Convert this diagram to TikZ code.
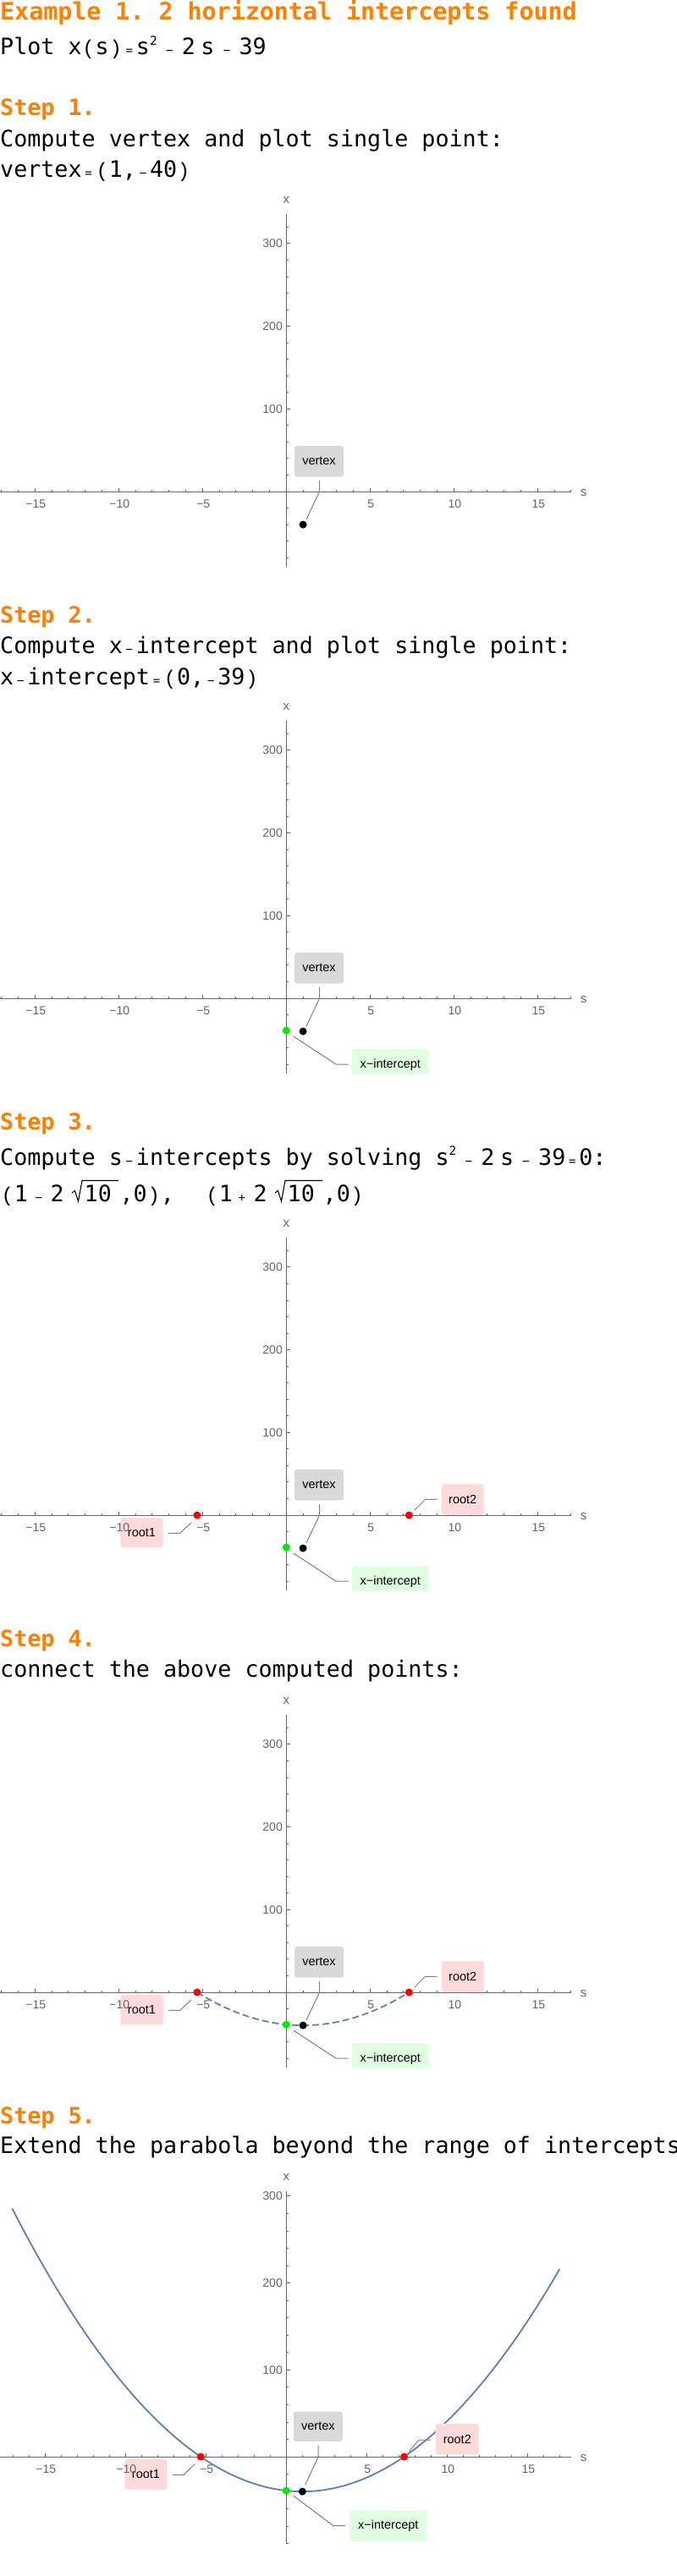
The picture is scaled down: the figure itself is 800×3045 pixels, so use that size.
\documentclass[tikz,border=0pt]{standalone}
\usepackage{fontspec}
\setmonofont{DejaVu Sans Mono}
\newfontfamily\lsans{Liberation Sans}
\newfontfamily\lmono{Liberation Mono}
\definecolor{orng}{RGB}{255,128,0}
\definecolor{axgray}{RGB}{102,102,102}
\definecolor{leadgray}{RGB}{128,128,128}
\definecolor{ptgreen}{RGB}{0,235,0}
\definecolor{curveblue}{RGB}{94,129,181}
\definecolor{vtxfill}{RGB}{217,217,217}
\definecolor{xifill}{RGB}{224,255,224}
\definecolor{rtfill}{RGB}{255,218,218}
\newcommand\bodyfont{\ttfamily\fontsize{26.7}{30}\selectfont}
\newcommand\headfont{\ttfamily\bfseries\fontsize{26.7}{30}\selectfont}
\newcommand\titlefont{\ttfamily\bfseries\fontsize{28.3}{32}\selectfont}
\newlength\cw \setlength\cw{16.07pt}
\newcommand\sy[1]{\makebox[\cw][c]{\fontsize{14}{14}\selectfont #1}}
\newcommand\pr[1]{\makebox[\cw][c]{\lmono\fontsize{24}{24}\selectfont #1}}
\newcommand\supt{\raisebox{11.7pt}{\fontsize{14.5}{14.5}\selectfont 2}}
\newcommand\PA[2]{\makebox[0pt][l]{\hspace*{#1pt}#2}}
\newcommand\gp{\hspace*{6.5pt}}
\tikzset{
 txt/.style={anchor=base west, inner sep=0pt, font=\bodyfont},
 head/.style={anchor=base west, inner sep=0pt, font=\headfont, text=orng},
 axisline/.style={draw=axgray, line width=0.9pt},
 ticklab/.style={font=\lsans\fontsize{14}{14}\selectfont, text=axgray, inner sep=0pt},
 axlab/.style={font=\lsans\fontsize{15}{15}\selectfont, text=axgray, inner sep=0pt},
 callbox/.style={rounded corners=3pt, inner sep=0pt, font=\lsans\fontsize{14.5}{14.5}\selectfont, text=black},
 leader/.style={draw=leadgray, line width=1pt},
 dot/.style={circle, inner sep=0pt, minimum size=9pt},
 parab/.style={draw=curveblue, line width=1.8pt},
 radline/.style={draw=black, line width=1.1pt},
}
% axes: #1 A, #2 sx, #3 sy, #4 top px, #5 bottom px, #6 lowest minor x tick
\newcommand\plotaxes[6]{%
 \draw[axisline] (0,#1) -- (675,#1);
 \draw[axisline] (338.3,#1-#4) -- (338.3,#1+#5);
 \foreach \sk in {-17,-16,...,-1}{\draw[axisline] ({338.3+#2*\sk},#1) -- ++(0,-2.3);}
 \foreach \sk in {1,2,...,17}{\draw[axisline] ({338.3+#2*\sk},#1) -- ++(0,-2.3);}
 \foreach \sk in {-15,-10,-5,5,10,15}{\draw[axisline] ({338.3+#2*\sk},#1) -- ++(0,-4.3);}
 \foreach \vk in {#6,-80,-60,-40,-20,20,40,60,80,120,140,160,180,220,240,260,280}{\draw[axisline] (338.3,{#1-#3*\vk}) -- ++(2.5,0);}
 \foreach \vk in {100,200,300}{\draw[axisline] (338.3,{#1-#3*\vk}) -- ++(4.3,0);}
}
% labels: #1 A, #2 sx, #3 sy, #4 x-label offset, #5 id
\newcommand\axlabels[5]{%
 \foreach \sk/\lt in {-15/−15,-10/−10,-5/−5,5/5,10/10,15/15}{\node[ticklab] (#5-s\sk) at ({338.3+#2*\sk+1},#1+15) {\lt};}
 \foreach \vk in {100,200,300}{\node[ticklab, anchor=east] (#5-x\vk) at (334,{#1-#3*\vk}) {\vk};}
 \node[axlab] (#5-slab) at (689.5,#1+2) {s};
 \node[axlab] (#5-xlab) at (338.3,#1-#4) {x};
}
\newcommand\vcallG[2]{%
 \coordinate (#1-va) at (377.5,#2-13);
 \coordinate (#1-vb) at (377.5,#2);
 \coordinate (#1-vc) at (362,#2+33);
 \draw[leader] (#1-va) -- (#1-vb) -- (#1-vc);
 \node[callbox, fill=vtxfill, minimum width=58pt, minimum height=36.5pt] (#1-vbox) at (377,#2-35.7) {vertex};
}
\newcommand\xcallG[2]{%
 \coordinate (#1-xa) at (346.7,#2+45);
 \coordinate (#1-xb) at (397,#2+78);
 \coordinate (#1-xc) at (411.7,#2+78);
 \draw[leader] (#1-xa) -- (#1-xb) -- (#1-xc);
 \begin{scope}
 \clip (0,#2-400) rectangle (800,#2+89);
 \node[callbox, fill=xifill, minimum width=90.5pt, minimum height=38pt] (#1-xbox) at (461.25,#2+79) {x−intercept};
 \end{scope}
}
\newcommand\rcallG[2]{%
 \coordinate (#1-ra) at (226,#2+9);
 \coordinate (#1-rb) at (212.7,#2+21.3);
 \coordinate (#1-rc) at (199,#2+21.3);
 \draw[leader] (#1-ra) -- (#1-rb) -- (#1-rc);
 \node[callbox, fill=rtfill, minimum width=50.4pt, minimum height=35.3pt] (#1-r1box) at (167.5,#2+20.7) {root1};
 \coordinate (#1-qa) at (490,#2-6);
 \coordinate (#1-qb) at (502.7,#2-18.7);
 \coordinate (#1-qc) at (516.7,#2-18.7);
 \draw[leader] (#1-qa) -- (#1-qb) -- (#1-qc);
 \node[callbox, fill=rtfill, minimum width=50pt, minimum height=36.4pt] (#1-r2box) at (546.7,#2-18.5) {root2};
}
\newcommand\radsign[3]{%
 \draw[radline] (#1,#2-10) -- (#1+3.5,#2-12.5) -- (#1+7.5,#2) -- (#1+12,#2-24.5) -- (#1+12+#3,#2-24.5);
}
\begin{document}
\begin{tikzpicture}[x=1pt,y=-1pt]
\fill[white] (0,0) rectangle (800,3045);
\useasboundingbox (0,0) rectangle (800,3045);

% ---------- heading ----------
\node[anchor=base west, inner sep=0pt, font=\titlefont, text=orng] (title) at (0,23.3) {Example 1. 2 horizontal intercepts found};
\node[txt] (plotline) at (0,65) {Plot x\pr{(}s\pr{)}\sy{=}s\supt\gp\sy{−}\gp 2\gp s\gp\sy{−}\gp 39};

% ---------- Step 1 ----------
\node[head] (h1) at (0,137) {Step 1.};
\node[txt] (t1a) at (0,173.3) {Compute vertex and plot single point:};
\node[txt] (t1b) at (0,210) {vertex\sy{=}\pr{(}1,\sy{−}40\pr{)}};
\plotaxes{581}{19.8}{0.977}{328}{89}{320}
\vcallG{p1}{581}
\axlabels{581}{19.8}{0.977}{344.3}{p1}
\node[dot, fill=black] (p1-vdot) at (358.1,620.1) {};

% ---------- Step 2 ----------
\node[head] (h2) at (0,736) {Step 2.};
\node[txt] (t2a) at (0,772.7) {Compute x\sy{−}intercept and plot single point:};
\node[txt] (t2b) at (0,809.4) {x\sy{−}intercept\sy{=}\pr{(}0,\sy{−}39\pr{)}};
\plotaxes{1180}{19.8}{0.977}{328}{89}{320}
\vcallG{p2}{1180}
\xcallG{p2}{1180}
\axlabels{1180}{19.8}{0.977}{344.3}{p2}
\node[dot, fill=black] (p2-vdot) at (358.1,1219.1) {};
\node[dot, fill=ptgreen] (p2-xdot) at (338.3,1218.1) {};

% ---------- Step 3 ----------
\node[head] (h3) at (0,1335) {Step 3.};
\node[txt] (t3a) at (0,1377) {Compute s\sy{−}intercepts by solving s\supt\gp\sy{−}\gp 2\gp s\gp\sy{−}\gp 39\sy{=}0:};
\node[txt] (t3b) at (0,1420) {\PA{0}{\pr{(}1}\PA{37}{\sy{−}}\PA{59}{2}\PA{99}{10}\PA{141}{,0}\PA{173}{\pr{)},}\PA{242}{\pr{(}1}\PA{277}{\sy{+}}\PA{299}{2}\PA{339}{10}\PA{381}{,0}\PA{413}{\pr{)}}};
\radsign{85}{1420}{43}
\radsign{325}{1420}{44}
\plotaxes{1791}{19.8}{0.977}{328}{89}{320}
\vcallG{p3}{1791}
\xcallG{p3}{1791}
\rcallG{p3}{1791}
\axlabels{1791}{19.8}{0.977}{344.3}{p3}
\node[dot, fill=black] (p3-vdot) at (358.1,1830.1) {};
\node[dot, fill=ptgreen] (p3-xdot) at (338.3,1829.1) {};
\node[dot, fill=red] (p3-r1dot) at (232.9,1791) {};
\node[dot, fill=red] (p3-r2dot) at (483.3,1791) {};

% ---------- Step 4 ----------
\node[head] (h4) at (0,1946) {Step 4.};
\node[txt] (t4a) at (0,1982.7) {connect the above computed points:};
\plotaxes{2355}{19.8}{0.977}{328}{89}{320}
\draw[parab, dash pattern=on 8pt off 4pt] plot[domain=-5.325:7.325, samples=80, smooth] ({338.3+19.8*\x},{2355-0.977*((\x)*(\x)-2*(\x)-39)});
\vcallG{p4}{2355}
\xcallG{p4}{2355}
\rcallG{p4}{2355}
\axlabels{2355}{19.8}{0.977}{344.3}{p4}
\node[dot, fill=black] (p4-vdot) at (358.1,2394.1) {};
\node[dot, fill=ptgreen] (p4-xdot) at (338.3,2393.1) {};
\node[dot, fill=red] (p4-r1dot) at (232.9,2355) {};
\node[dot, fill=red] (p4-r2dot) at (483.3,2355) {};

% ---------- Step 5 ----------
\node[head] (h5) at (0,2510.7) {Step 5.};
\node[txt] (t5a) at (0,2545) {Extend the parabola beyond the range of intercepts};
\plotaxes{2904}{19}{1.027}{314}{102.7}{-100}
\draw[parab] plot[domain=-17.05:17, samples=120, smooth] ({338.3+19*\x},{2904-1.027*((\x)*(\x)-2*(\x)-39)});
% vertex callout
\coordinate (p5-va) at (376,2890.7);
\coordinate (p5-vb) at (376,2904);
\coordinate (p5-vc) at (360.7,2937.3);
\draw[leader] (p5-va) -- (p5-vb) -- (p5-vc);
\node[callbox, fill=vtxfill, minimum width=58.3pt, minimum height=35.3pt] (p5-vbox) at (375.9,2868.3) {vertex};
% x-intercept callout
\coordinate (p5-xa) at (346.7,2950);
\coordinate (p5-xb) at (394,2985.7);
\coordinate (p5-xc) at (408.3,2985.7);
\draw[leader] (p5-xa) -- (p5-xb) -- (p5-xc);
\node[callbox, fill=xifill, minimum width=91pt, minimum height=36.7pt] (p5-xbox) at (458.8,2985.7) {x−intercept};
% root callouts
\coordinate (p5-ra) at (230,2912.7);
\coordinate (p5-rb) at (217.3,2925.3);
\coordinate (p5-rc) at (204,2925.3);
\draw[leader] (p5-ra) -- (p5-rb) -- (p5-rc);
\node[callbox, fill=rtfill, minimum width=50.4pt, minimum height=36pt] (p5-r1box) at (172.5,2924.7) {root1};
\coordinate (p5-qa) at (483.3,2898);
\coordinate (p5-qb) at (495,2884);
\coordinate (p5-qc) at (509.3,2884);
\draw[leader] (p5-qa) -- (p5-qb) -- (p5-qc);
\node[callbox, fill=rtfill, minimum width=50.7pt, minimum height=36.7pt] (p5-r2box) at (540.3,2883.3) {root2};
\axlabels{2904}{19}{1.027}{330}{p5}
\node[dot, fill=black] (p5-vdot) at (357.3,2945.1) {};
\node[dot, fill=ptgreen] (p5-xdot) at (338.3,2944.1) {};
\node[dot, fill=red] (p5-r1dot) at (237.1,2904) {};
\node[dot, fill=red] (p5-r2dot) at (477.5,2904) {};
\end{tikzpicture}
\end{document}
